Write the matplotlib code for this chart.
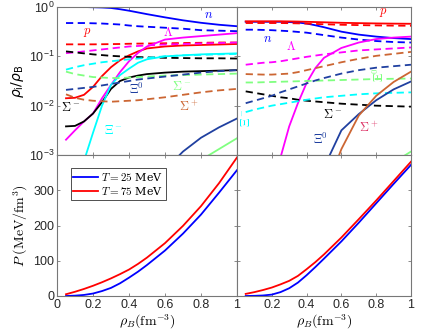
import numpy as np
import matplotlib
matplotlib.use('Agg')
import matplotlib.pyplot as plt

plt.rcParams['font.family'] = ['Liberation Sans', 'DejaVu Sans']
plt.rcParams['mathtext.fontset'] = 'cm'

# baryon density grid (fm^-3)
rho = [0.05, 0.1, 0.15, 0.2, 0.25, 0.3, 0.35, 0.4, 0.45, 0.5, 0.6, 0.7, 0.8, 0.9, 1.0]

# log10 of particle fractions, left panel (solid / dashed)
L_n_s = [0.0, 0.0, 0.0, -0.005, -0.01, -0.02, -0.045, -0.075, -0.11, -0.145, -0.21, -0.27, -0.32, -0.36, -0.39]
L_n_d = [-0.325, -0.325, -0.325, -0.33, -0.335, -0.345, -0.355, -0.375, -0.39, -0.40, -0.42, -0.44, -0.47, -0.48, -0.49]
L_p_s = [-1.85, -1.84, -1.78, -1.62, -1.40, -1.22, -1.08, -0.98, -0.90, -0.84, -0.80, -0.78, -0.77, -0.76, -0.75]
L_p_d = [-0.757, -0.757, -0.757, -0.757, -0.755, -0.752, -0.75, -0.745, -0.742, -0.74, -0.735, -0.73, -0.725, -0.72, -0.72]
L_lam_s = [-2.69, -2.5, -2.32, -2.16, -1.85, -1.58, -1.32, -1.1, -0.93, -0.8, -0.66, -0.62, -0.59, -0.56, -0.53]
L_lam_d = [-0.935, -0.92, -0.9, -0.88, -0.86, -0.84, -0.82, -0.8, -0.79, -0.78, -0.76, -0.75, -0.74, -0.73, -0.72]
L_sm_s = [-2.42, -2.41, -2.32, -2.16, -1.93, -1.66, -1.5, -1.43, -1.39, -1.36, -1.33, -1.31, -1.30, -1.29, -1.28]
L_sm_d = [-0.9, -0.92, -0.94, -0.96, -0.975, -0.99, -1.0, -1.01, -1.015, -1.02, -1.03, -1.035, -1.04, -1.04, -1.045]
L_xm_s = [-4.3, -3.7, -3.12, -2.55, -2.0, -1.58, -1.38, -1.25, -1.13, -1.06, -1.0, -0.98, -0.96, -0.95, -0.94]
L_xm_d = [-1.27, -1.22, -1.18, -1.15, -1.12, -1.1, -1.08, -1.06, -1.045, -1.03, -1.0, -0.98, -0.97, -0.96, -0.95]
L_s0_s = [-6, -6, -6, -6, -6, -6, -6, -6, -6, -5.5, -4.5, -3.7, -3.1, -2.88, -2.66]
L_s0_d = [-1.31, -1.36, -1.39, -1.42, -1.43, -1.44, -1.44, -1.43, -1.42, -1.41, -1.39, -1.38, -1.37, -1.36, -1.35]
L_x0_s = [-6, -6, -6, -6, -6, -6, -6, -5.5, -4.6, -4.0, -3.3, -2.93, -2.65, -2.44, -2.26]
L_x0_d = [-1.68, -1.66, -1.64, -1.62, -1.59, -1.56, -1.53, -1.5, -1.47, -1.45, -1.41, -1.37, -1.33, -1.30, -1.28]
L_sp_s = [-6] * 15
L_sp_d = [-1.77, -1.84, -1.88, -1.9, -1.91, -1.92, -1.91, -1.9, -1.89, -1.87, -1.83, -1.78, -1.73, -1.69, -1.66]

# right panel
R_n_s = [-0.30, -0.30, -0.30, -0.30, -0.30, -0.305, -0.315, -0.335, -0.37, -0.41, -0.5, -0.56, -0.6, -0.63, -0.65]
R_n_d = [-0.46, -0.46, -0.465, -0.47, -0.48, -0.49, -0.505, -0.52, -0.545, -0.57, -0.62, -0.66, -0.69, -0.71, -0.72]
R_p_s = [-0.29, -0.29, -0.29, -0.29, -0.29, -0.292, -0.295, -0.3, -0.305, -0.31, -0.32, -0.327, -0.333, -0.337, -0.34]
R_p_d = [-0.325, -0.325, -0.325, -0.325, -0.325, -0.328, -0.332, -0.337, -0.343, -0.35, -0.36, -0.367, -0.373, -0.378, -0.38]
R_lam_s = [-7, -6, -4.9, -3.7, -3.05, -2.42, -1.95, -1.54, -1.24, -1.03, -0.83, -0.72, -0.65, -0.62, -0.6]
R_lam_d = [-1.17, -1.15, -1.13, -1.12, -1.1, -1.07, -1.04, -1.01, -0.985, -0.96, -0.92, -0.88, -0.86, -0.84, -0.82]
R_sm_s = [-7] * 15
R_sm_d = [-1.71, -1.74, -1.77, -1.8, -1.83, -1.85, -1.88, -1.9, -1.915, -1.93, -1.96, -1.98, -2.0, -2.01, -2.02]
R_xm_s = [-7] * 15
R_xm_d = [-2.13, -2.08, -2.04, -2.0, -1.97, -1.94, -1.91, -1.88, -1.855, -1.83, -1.8, -1.77, -1.75, -1.74, -1.73]
R_s0_s = [-7, -7, -7, -7, -7, -7, -7, -7, -7, -6, -5, -4.2, -3.6, -3.15, -2.93]
R_s0_d = [-1.53, -1.53, -1.525, -1.52, -1.515, -1.51, -1.505, -1.5, -1.495, -1.49, -1.48, -1.47, -1.46, -1.455, -1.45]
R_x0_s = [-7, -7, -7, -7, -6, -5.5, -4.8, -4.2, -3.7, -3.25, -2.5, -2.17, -1.89, -1.67, -1.51]
R_x0_d = [-1.95, -1.9, -1.85, -1.8, -1.73, -1.67, -1.61, -1.55, -1.49, -1.44, -1.35, -1.28, -1.23, -1.2, -1.17]
R_sp_s = [-7, -7, -7, -7, -7, -7, -6, -5.5, -4.6, -3.8, -2.88, -2.2, -1.8, -1.52, -1.31]
R_sp_d = [-1.36, -1.365, -1.37, -1.37, -1.36, -1.35, -1.32, -1.28, -1.24, -1.2, -1.12, -1.05, -0.99, -0.95, -0.91]

# pressure (MeV/fm^3)
PL_25 = [0, 1, 3, 7, 14, 23, 36, 52, 69, 88, 129, 177, 231, 293, 357]
PL_75 = [5, 12, 20, 29, 39, 50, 62, 75, 91, 109, 150, 199, 255, 320, 393]
PR_25 = [0, 0.5, 1.5, 4, 11, 22, 38, 59, 82, 106, 155, 208, 263, 318, 372]
PR_75 = [6, 11, 17, 24, 33, 43, 57, 76, 96, 118, 166, 218, 271, 326, 381]

logticks = [1e-3, 1e-2, 1e-1, 1]
logticklabels = [r'$\mathregular{10^{-3}}$', r'$\mathregular{10^{-2}}$',
                 r'$\mathregular{10^{-1}}$', r'$\mathregular{10^{0}}$']

C_N = '#0000ff'
C_P = '#ff0000'
C_LAM = '#ff00ff'
C_SM = '#000000'
C_XM = '#00ffff'
C_S0 = '#80ff80'
C_X0 = '#2040a0'
C_SP = '#cc6633'

left_sets = [(L_n_s, L_n_d, C_N), (L_p_s, L_p_d, C_P), (L_lam_s, L_lam_d, C_LAM),
             (L_sm_s, L_sm_d, C_SM), (L_xm_s, L_xm_d, C_XM), (L_s0_s, L_s0_d, C_S0),
             (L_x0_s, L_x0_d, C_X0), (L_sp_s, L_sp_d, C_SP)]
right_sets = [(R_n_s, R_n_d, C_N), (R_p_s, R_p_d, C_P), (R_lam_s, R_lam_d, C_LAM),
              (R_sm_s, R_sm_d, C_SM), (R_xm_s, R_xm_d, C_XM), (R_s0_s, R_s0_d, C_S0),
              (R_x0_s, R_x0_d, C_X0), (R_sp_s, R_sp_d, C_SP)]

fig = plt.figure(figsize=(4.36, 3.33), dpi=100)
W, H = 436, 333
ax_tl = fig.add_axes([57 / W, 1 - 155 / H, 180 / W, 148 / H])
ax_tr = fig.add_axes([237 / W, 1 - 155 / H, 174 / W, 148 / H])
ax_bl = fig.add_axes([57 / W, 1 - 296 / H, 180 / W, 141 / H])
ax_br = fig.add_axes([237 / W, 1 - 296 / H, 174 / W, 141 / H])

gray = '#777777'
for ax in [ax_tl, ax_tr, ax_bl, ax_br]:
    ax.set_xlim(0, 1)
    for sp in ax.spines.values():
        sp.set_color(gray)
        sp.set_linewidth(0.8)
    ax.tick_params(direction='in', top=True, right=True, length=2.5, width=0.6,
                   color=gray, labelsize=9, labelcolor='#262626', pad=2)

for ax, sets in [(ax_tl, left_sets), (ax_tr, right_sets)]:
    for solid, dashed, c in sets:
        ax.plot(rho, 10.0 ** np.array(solid, dtype=float), '-', color=c, lw=1.3)
        ax.plot(rho, 10.0 ** np.array(dashed, dtype=float), '--', color=c, lw=1.3, dashes=(4, 2.5))
    ax.set_yscale('log')
    ax.set_ylim(1e-3, 1)
    ax.set_yticks(logticks)
    ax.yaxis.set_minor_locator(matplotlib.ticker.NullLocator())
    ax.set_xticks([0.2, 0.4, 0.6, 0.8])
    ax.set_xticklabels([])
ax_tl.set_yticklabels(logticklabels)
for t in ax_tl.get_yticklabels():
    t.set_math_fontfamily('dejavusans')
ax_tr.set_yticklabels([])
ax_tl.set_ylabel(r'$\rho_\mathrm{i}/\rho_\mathrm{B}$', fontsize=10, math_fontfamily='dejavusans', labelpad=2)

ax_bl.plot(rho, PL_25, color=C_N, lw=1.3, label=r'$T = 25$ MeV')
ax_bl.plot(rho, PL_75, color=C_P, lw=1.3, label=r'$T = 75$ MeV')
ax_br.plot(rho, PR_25, color=C_N, lw=1.3)
ax_br.plot(rho, PR_75, color=C_P, lw=1.3)
for ax in [ax_bl, ax_br]:
    ax.set_ylim(0, 400)
    ax.set_yticks([0, 100, 200, 300])
    ax.set_xlabel(r'$\rho_B(\mathrm{fm}^{-3})$', fontsize=10, labelpad=1)
ax_bl.set_xticks([0, 0.2, 0.4, 0.6, 0.8, 1])
ax_bl.set_xticklabels(['0', '0.2', '0.4', '0.6', '0.8', '1'])
ax_br.set_xticks([0.2, 0.4, 0.6, 0.8, 1])
ax_br.set_xticklabels(['0.2', '0.4', '0.6', '0.8', '1'])
ax_br.set_yticklabels([])
ax_bl.set_ylabel(r'$P\ (\mathrm{MeV/fm}^3)$', fontsize=10, labelpad=2)

leg = ax_bl.legend(loc='upper left', bbox_to_anchor=(0.075, 0.905), borderaxespad=0,
                   fontsize=8, handlelength=2.2, handletextpad=0.3, borderpad=0.25,
                   labelspacing=0.15, fancybox=False, framealpha=1)
leg.get_frame().set_edgecolor('#333333')
leg.get_frame().set_linewidth(0.6)
for t in leg.get_texts():
    t.set_fontfamily(['DejaVu Serif'])

# curve labels
fs = 9
ax_tl.text(0.84, 0.69, r'$n$', color=C_N, fontsize=fs, ha='center', va='center')
ax_tl.text(0.17, 0.30, r'$p$', color=C_P, fontsize=fs, ha='center', va='center')
ax_tl.text(0.62, 0.30, r'$\Lambda$', color=C_LAM, fontsize=fs, ha='center', va='center')
ax_tl.text(0.44, 0.021, r'$\Xi^0$', color=C_X0, fontsize=fs, ha='center', va='center')
ax_tl.text(0.69, 0.025, r'$\Sigma^-$', color=C_S0, fontsize=fs, ha='center', va='center')
ax_tl.text(0.077, 0.0093, r'$\Sigma^-$', color=C_SM, fontsize=fs, ha='center', va='center')
ax_tl.text(0.73, 0.0095, r'$\Sigma^+$', color=C_SP, fontsize=fs, ha='center', va='center')
ax_tl.text(0.31, 0.0032, r'$\Xi^-$', color=C_XM, fontsize=fs, ha='center', va='center')

ax_tr.text(0.84, 0.78, r'$p$', color=C_P, fontsize=fs, ha='center', va='center')
ax_tr.text(0.175, 0.22, r'$n$', color=C_N, fontsize=fs, ha='center', va='center')
ax_tr.text(0.31, 0.16, r'$\Lambda$', color=C_LAM, fontsize=fs, ha='center', va='center')
ax_tr.text(0.82, 0.043, r'$\Xi^0$', color=C_S0, fontsize=fs, ha='center', va='center', rotation=90)
ax_tr.text(0.056, 0.0056, r'$\Xi^-$', color=C_XM, fontsize=fs, ha='center', va='center', rotation=90)
ax_tr.text(0.55, 0.0066, r'$\Sigma^-$', color=C_SM, fontsize=fs, ha='center', va='center')
ax_tr.text(0.755, 0.0035, r'$\Sigma^+$', color='#dd3366', fontsize=fs, ha='center', va='center')
ax_tr.text(0.48, 0.0021, r'$\Xi^0$', color=C_X0, fontsize=fs, ha='center', va='center')

fig.savefig('out.png', dpi=100)
